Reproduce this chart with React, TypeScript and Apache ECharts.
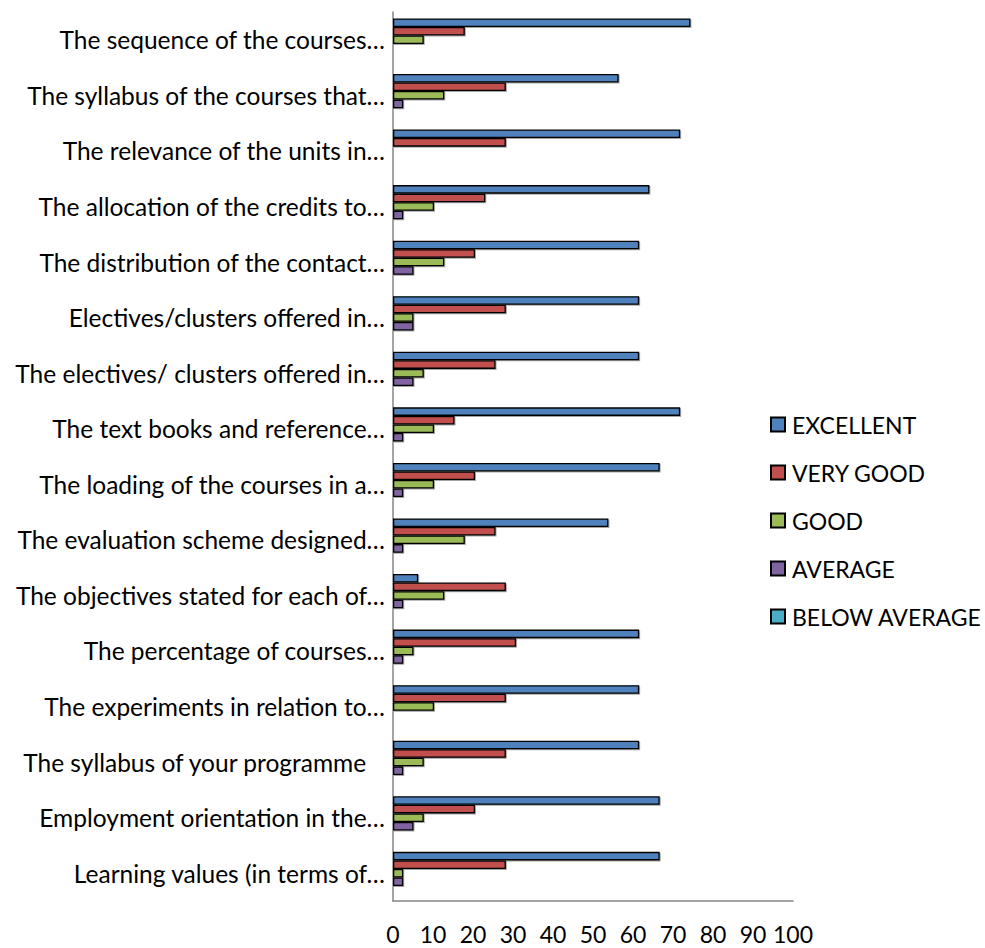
import React, { useEffect, useRef } from "react";
import * as echarts from "echarts";

const categories = [
  "The sequence of the courses…",
  "The syllabus of the courses that…",
  "The relevance of the units in…",
  "The allocation of the credits to…",
  "The distribution of the contact…",
  "Electives/clusters offered in…",
  "The electives/ clusters offered in…",
  "The text books and reference…",
  "The loading of the courses in a…",
  "The evaluation scheme designed…",
  "The objectives stated for each of…",
  "The percentage of courses…",
  "The experiments in relation to…",
  "The syllabus of your programme\u00a0\u00a0\u00a0",
  "Employment orientation in the…",
  "Learning values (in terms of…",
];

const excellent = [74.36, 56.41, 71.79, 64.1, 61.54, 61.54, 61.54, 71.79, 66.67, 53.85, 6.3, 61.54, 61.54, 61.54, 66.67, 66.67];
const veryGood = [17.95, 28.21, 28.21, 23.08, 20.51, 28.21, 25.64, 15.38, 20.51, 25.64, 28.21, 30.77, 28.21, 28.21, 20.51, 28.21];
const good = [7.69, 12.82, 0, 10.26, 12.82, 5.13, 7.69, 10.26, 10.26, 17.95, 12.82, 5.13, 10.26, 7.69, 7.69, 2.56];
const average = [0, 2.56, 0, 2.56, 5.13, 5.13, 5.13, 2.56, 2.56, 2.56, 2.56, 2.56, 0, 2.56, 5.13, 2.56];
const belowAverage = [0, 0, 0, 0, 0, 0, 0, 0, 0, 0, 0, 0, 0, 0, 0, 0];

const seriesNames = ["EXCELLENT", "VERY GOOD", "GOOD", "AVERAGE", "BELOW AVERAGE"];
const seriesData = [excellent, veryGood, good, average, belowAverage];
const colors = ["#4F81BD", "#C0504D", "#9BBB59", "#8064A2", "#4BACC6"];
const xTicks = { min: 0, max: 100, interval: 10 };

const FONT = "Lato";

export default function App() {
  const ref = useRef<HTMLDivElement>(null);
  useEffect(() => {
    if (!ref.current) return;
    const chart = echarts.init(ref.current, null, { renderer: "svg" });
    chart.setOption({
      animation: false,
      textStyle: { fontFamily: FONT },
      grid: { left: 393, right: 192, top: 12, bottom: 47, containLabel: false },
      legend: {
        orient: "vertical",
        left: 770,
        top: 413,
        padding: 0,
        itemWidth: 14,
        itemHeight: 14,
        itemGap: 25,
        icon: "rect",
        textStyle: { fontFamily: FONT, fontSize: 23, color: "#000", padding: [0, 0, 0, 2] },
        data: seriesNames,
      },
      xAxis: {
        type: "value",
        min: xTicks.min,
        max: xTicks.max,
        interval: xTicks.interval,
        splitLine: { show: false },
        axisTick: { show: false },
        axisLine: { show: true, lineStyle: { color: "#868686", width: 1.5 } },
        axisLabel: { color: "#000", fontSize: 23, fontFamily: FONT, margin: 21 },
      },
      yAxis: {
        type: "category",
        inverse: true,
        data: categories,
        axisTick: { show: false },
        axisLine: { show: true, lineStyle: { color: "#868686", width: 1.5 } },
        axisLabel: { color: "#000", fontSize: 24.5, fontFamily: FONT, margin: 8, padding: [0, 0, 3, 0] },
      },
      series: seriesNames.map((name, i) => ({
        name,
        type: "bar",
        barGap: "0%",
        barCategoryGap: "23%",
        data: seriesData[i].map((v) => (v === 0 ? null : v)),
        itemStyle: {
          color: colors[i],
          borderColor: "#000",
          borderWidth: 1.3,
          shadowColor: "rgba(0,0,0,0.35)",
          shadowOffsetX: 1,
          shadowOffsetY: 1,
          shadowBlur: 1,
        },
      })),
    });
    return () => chart.dispose();
  }, []);
  return (
    <div
      ref={ref}
      style={{ position: "fixed", left: 0, top: 0, width: 985, height: 948, background: "#fff" }}
    />
  );
}
